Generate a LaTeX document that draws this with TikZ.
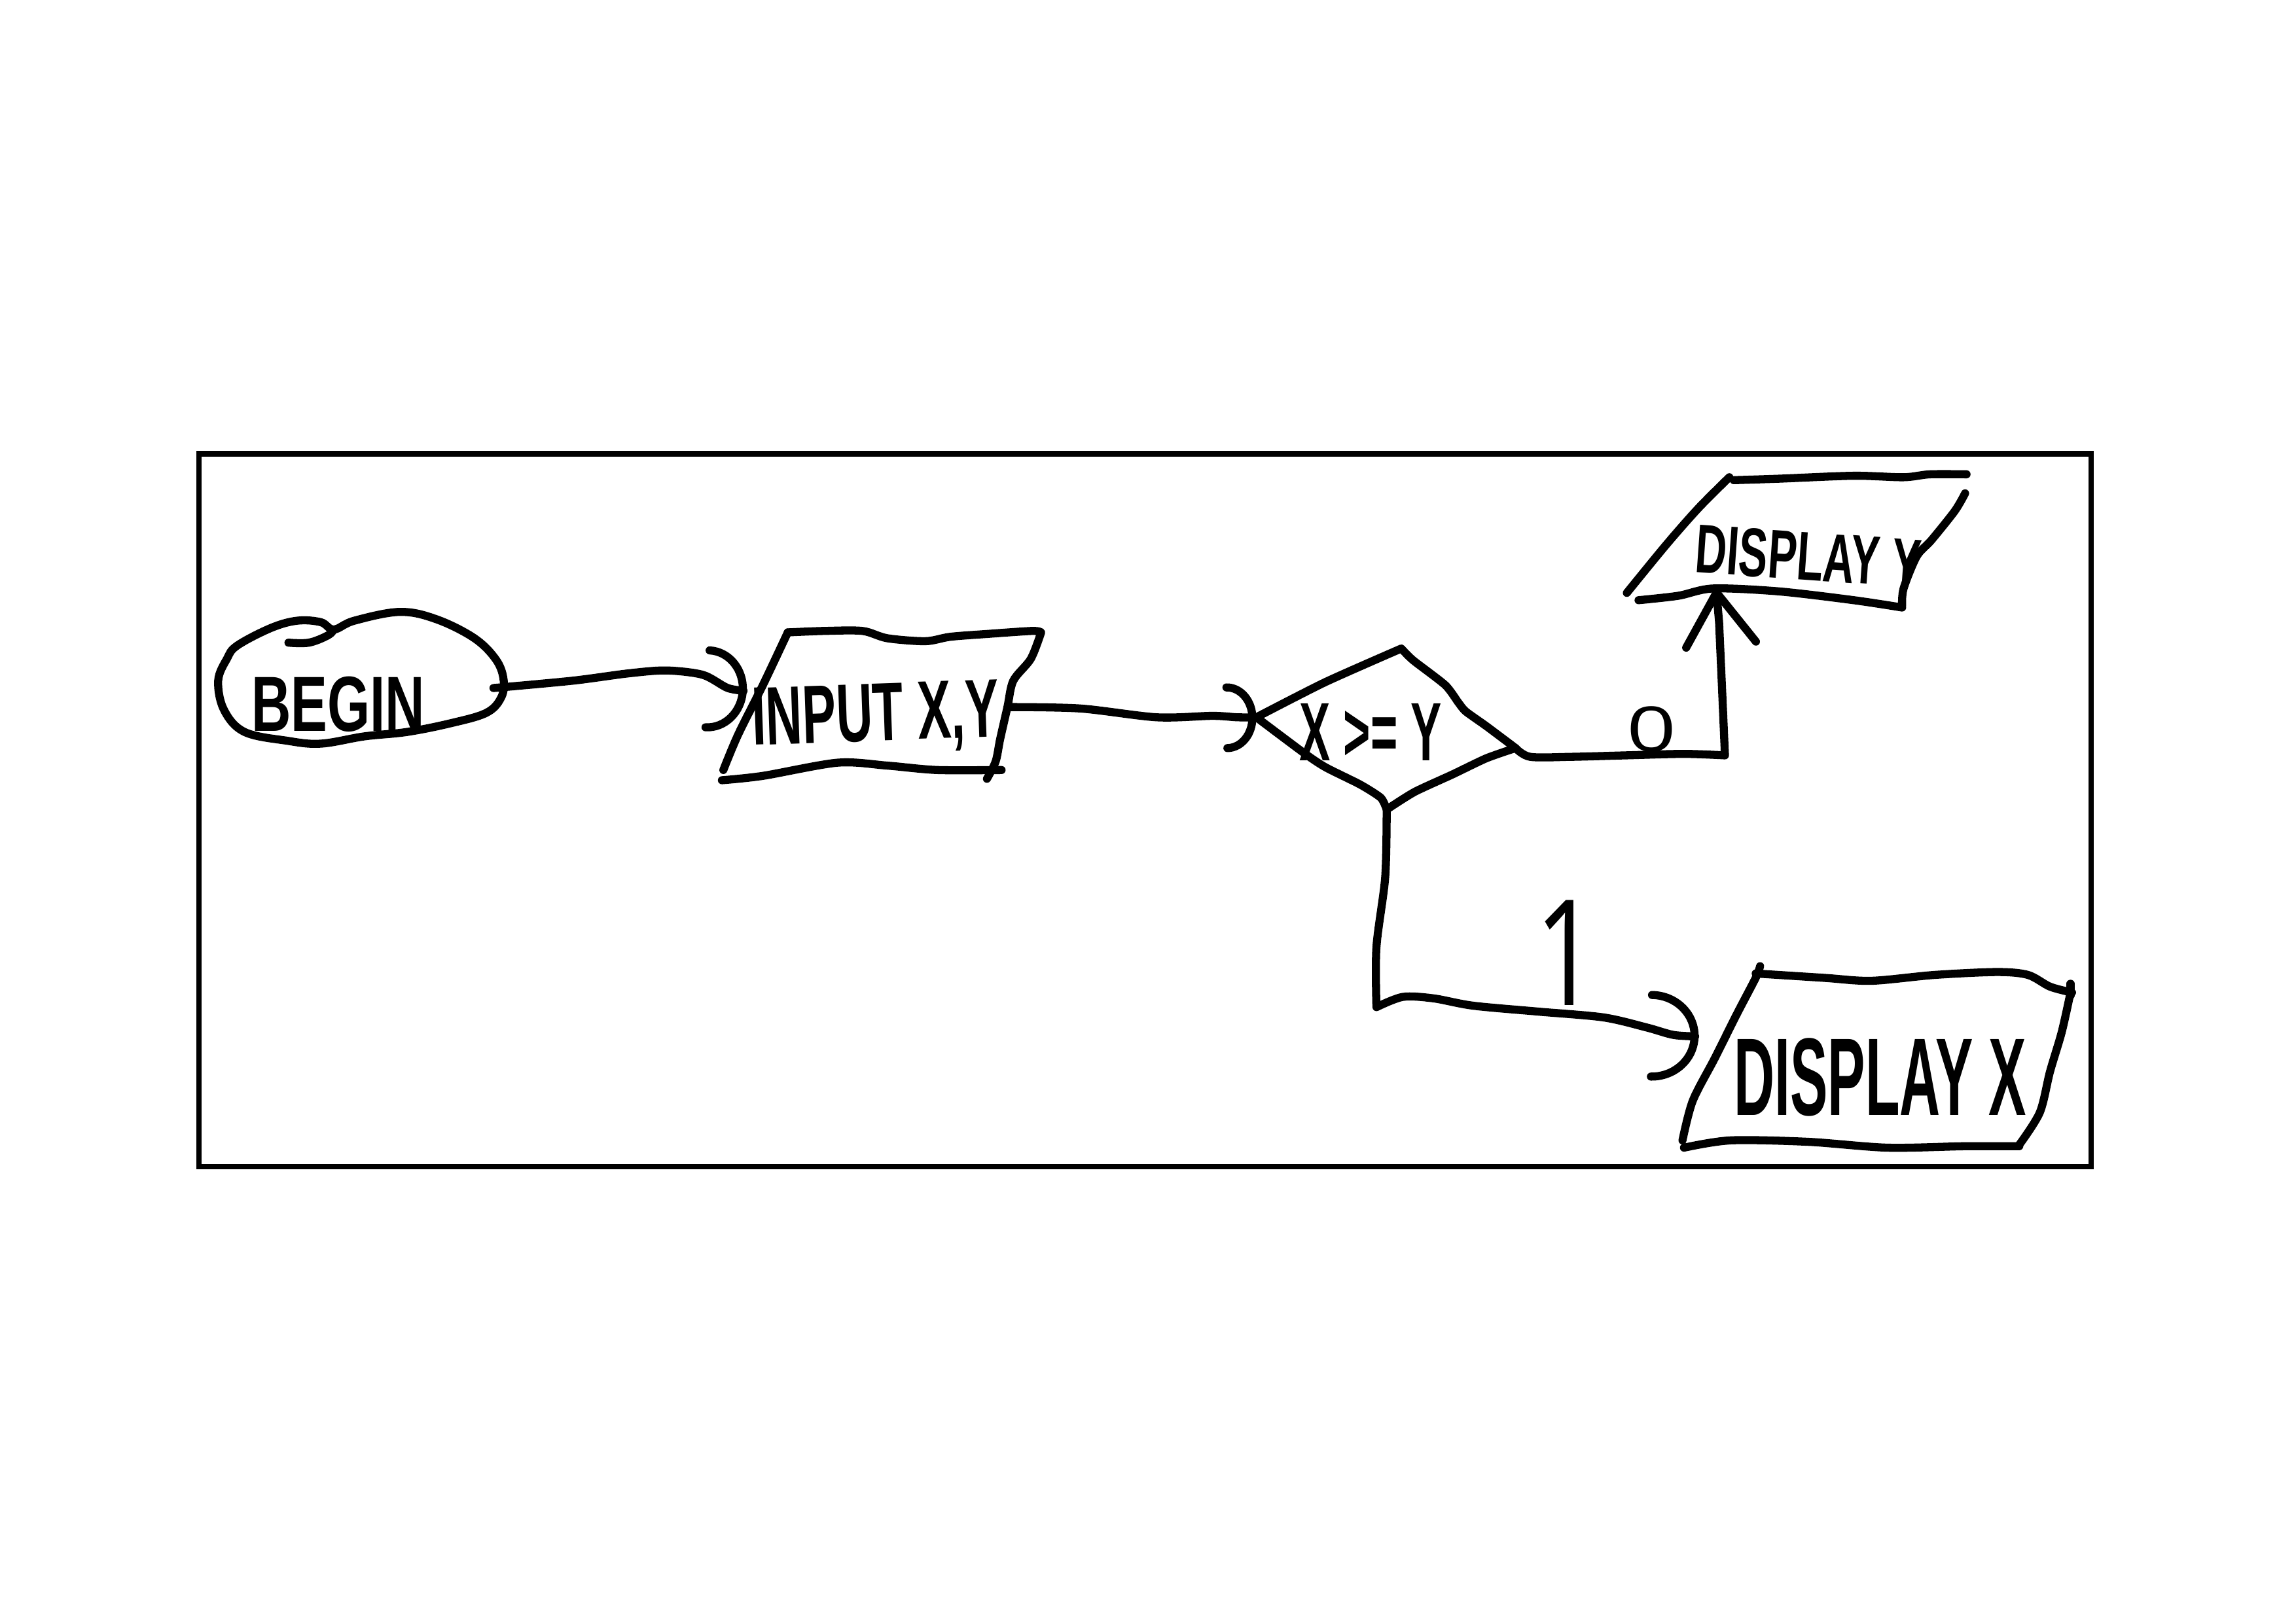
\documentclass[tikz,border=0pt]{standalone}
\usepackage{fontspec}
\usepackage{graphicx}
\setmainfont{Liberation Sans}
\newfontfamily\hand{Liberation Sans}
\newfontfamily\digits{Open Sans}
\usetikzlibrary{arrows.meta}

% horizontally narrowed lettering
\newcommand{\squeeze}[2]{\scalebox{#1}[1]{#2}}

\begin{document}
\begin{tikzpicture}[x=0.022372cm, y=-0.022372cm,
  ink/.style={line width=3.5pt, line cap=round, line join=round},
  frame/.style={line width=2.4pt},
  lbl/.style={inner sep=0pt, anchor=center},
  arcin/.style 2 args={-{Arc Barb[round, length=#1, width=#2]}},
  upin/.style={-{Straight Barb[round, length=0.8cm, width=1.07cm]}}
]
\useasboundingbox (0,0) rectangle (1568,1109);

% outer frame
\draw[frame] (136,310) rectangle (1428,797);

% ---- labels ----
\node[lbl, font=\hand\bfseries\fontsize{34}{36}\selectfont] (begin) at (231,481) {\squeeze{0.7}{BEGIN}};
\node[lbl, font=\hand\bfseries\fontsize{36}{38}\selectfont, rotate=2] (input) at (598,491) {\squeeze{0.61}{INPUT X,Y}};
\node[lbl, font=\hand\bfseries\fontsize{36}{38}\selectfont] (cond) at (936,500) {\squeeze{0.56}{X >= Y}};
\node[lbl, font=\hand\bfseries\fontsize{30}{32}\selectfont, rotate=-4] (dispy) at (1235,380) {\squeeze{0.63}{DISPLAY Y}};
\node[lbl, font=\hand\bfseries\fontsize{48}{52}\selectfont] (dispx) at (1284,736) {\squeeze{0.51}{DISPLAY X}};
\node[lbl, font=\digits\fontsize{27}{29}\selectfont] (lzero) at (1128,498) {\squeeze{1.4}{0}};
\node[lbl, font=\digits\fontsize{64}{68}\selectfont] (lone) at (1070,651) {\squeeze{0.75}{1}};

% ---- attachment points ----
\coordinate (bOut) at (337,470);
\coordinate (iIn) at (510,472);
\coordinate (iOut) at (690,483);
\coordinate (dL) at (858,490);
\coordinate (dT) at (957,443);
\coordinate (dR) at (1035,511);
\coordinate (dB) at (947,553);
\coordinate (yCorner) at (1178,516);
\coordinate (yIn) at (1172,402);
\coordinate (xCorner) at (940,688);
\coordinate (xIn) at (1160,708);

% ---- BEGIN terminal ----
\draw[ink] plot[smooth cycle, tension=0.6] coordinates {
  (162,441) (185,429) (203,424) (219,425) (228,430) (242,424) (273,418)
  (298,423) (324,436) (339,451) (344,465) (342,477) (332,487) (308,494)
  (278,500) (249,503) (219,508) (196,506) (167,500) (153,485) (149,465) (155,450)};
\draw[ink] plot[smooth, tension=0.6] coordinates {(197,439) (211,439) (224,434) (228,430)};

% ---- INPUT box ----
\draw[ink] plot[smooth, tension=0.5] coordinates {
  (538,432) (563,431) (589,431) (606,436) (632,438) (649,435) (675,433) (705,431) (711,432)}
  -- plot[smooth, tension=0.5] coordinates {
  (711,432) (704,450) (692,465) (688,483) (683,505) (680,520) (674,532)};
\draw[ink] plot[smooth, tension=0.5] coordinates {(538,432) (521,468) (504,502) (494,526)};
\draw[ink] plot[smooth, tension=0.5] coordinates {
  (493,533) (521,530) (572,521) (606,523) (640,526) (684,526)};

% ---- decision ----
\draw[ink] plot[smooth, tension=0.4] coordinates {(dL) (905,466) (dT)}
  -- plot[smooth, tension=0.4] coordinates {
  (dT) (965,451) (987,468) (996,480) (1001,486) (1015,496) (dR)}
  -- plot[smooth, tension=0.4] coordinates {
  (dR) (1015,518) (992,529) (966,541) (dB)}
  -- plot[smooth, tension=0.4] coordinates {
  (dB) (943,545) (929,536) (905,524) (890,514) (dL)};

% ---- DISPLAY Y box ----
\draw[ink] plot[smooth, tension=0.5] coordinates {(1181,326) (1160,347) (1138,372) (1111,405)};
\draw[ink] plot[smooth, tension=0.5] coordinates {
  (1184,328) (1215,327) (1266,325) (1300,326) (1318,324) (1343,324)};
\draw[ink] plot[smooth, tension=0.5] coordinates {
  (1342,337) (1335,349) (1319,369) (1309,380) (1300,402) (1299,414)};
\draw[ink] plot[smooth, tension=0.5] coordinates {
  (1119,410) (1146,407) (1170,402) (1215,404) (1266,410) (1299,415)};

% ---- DISPLAY X box ----
\draw[ink] plot[smooth, tension=0.5] coordinates {
  (1202,660) (1199,668) (1186,693) (1171,723) (1156,752) (1149,779)};
\draw[ink] plot[smooth, tension=0.5] coordinates {
  (1199,665) (1246,668) (1278,670) (1321,666) (1364,664) (1385,666) (1400,674) (1415,678)};
\draw[ink] (1414,672) -- (1414,680);
\draw[ink] plot[smooth, tension=0.5] coordinates {
  (1414,678) (1408,705) (1400,732) (1393,760) (1379,782)};
\draw[ink] plot[smooth, tension=0.5] coordinates {
  (1150,784) (1182,779) (1235,780) (1289,784) (1342,783) (1379,783)};

% ---- connectors ----
\draw[ink, arcin={0.6cm}{1.3cm}] plot[smooth, tension=0.5] coordinates {
  (bOut) (391,465) (429,460) (455,458) (480,461) (497,470) (iIn)};
\draw[ink, arcin={0.45cm}{1.05cm}] plot[smooth, tension=0.5] coordinates {
  (iOut) (738,484) (790,490) (828,489) (845,490) (dL)};
\draw[ink, upin] plot[smooth, tension=0.5] coordinates {
  (dR) (1045,517) (1073,517) (1110,516) (1150,515) (yCorner)}
  -- (1176,470) -- (1174,425) -- (yIn);
\draw[ink, arcin={0.72cm}{1.37cm}] plot[smooth, tension=0.5] coordinates {
  (dB) (946,599) (940,647) (xCorner)}
  -- plot[smooth, tension=0.5] coordinates {
  (xCorner) (958,681) (979,682) (1006,687) (1050,691) (1095,695) (1125,702) (1143,707) (xIn)};
\end{tikzpicture}
\end{document}
